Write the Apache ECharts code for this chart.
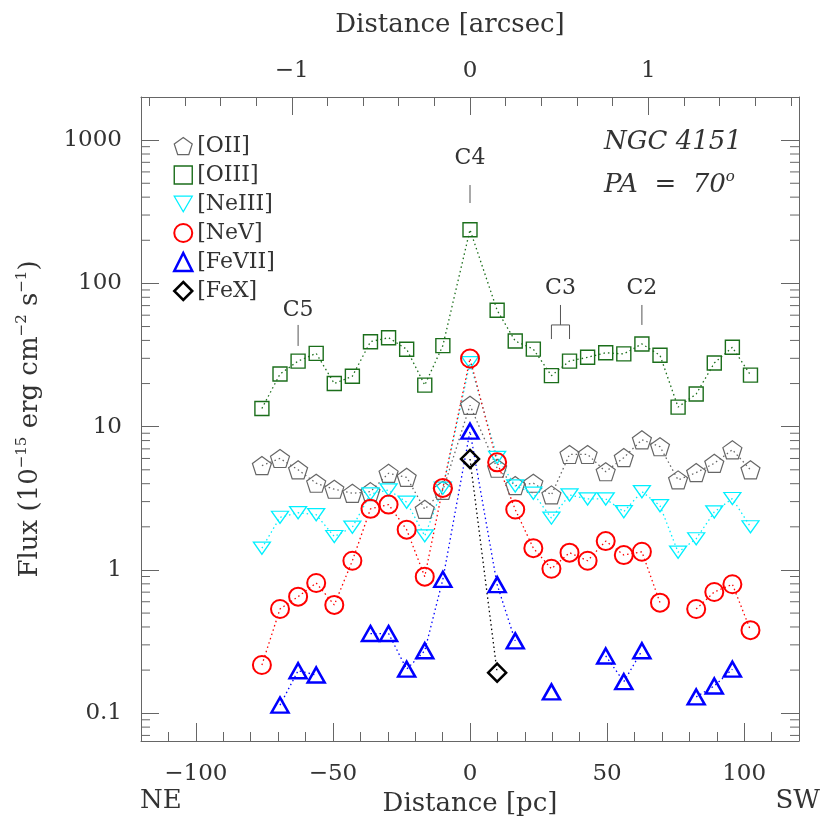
<!DOCTYPE html>
<html>
<head>
<meta charset="utf-8">
<title>NGC 4151 line fluxes</title>
<script src="https://cdn.jsdelivr.net/npm/echarts@6/dist/echarts.min.js"></script>
<style>
  html, body { margin: 0; padding: 0; background: #fff; }
  #graph { width: 830px; height: 830px; }
</style>
</head>
<body>
<div id="graph"></div>
<script>
'use strict'

// distance along the slit (pc), one entry per extracted spectrum
const distances = [-75.9, -69.3, -62.7, -56.1, -49.5, -42.9, -36.3, -29.7, -23.1, -16.5, -9.9, 0,
  9.9, 16.5, 23.1, 29.7, 36.3, 42.9, 49.5, 56.1, 62.7, 69.3, 75.9, 82.5, 89.1, 95.7, 102.3]

// fluxes in 1e-15 erg/cm2/s, null = no measurement
const fluxOII = [5.35, 6.0, 5.0, 4.03, 3.66, 3.43, 3.52, 4.73, 4.43, 2.65, 3.6, 14.1,
  5.13, 3.88, 4.03, 3.34, 6.4, 6.4, 4.85, 6.08, 8.1, 7.25, 4.25, 4.78, 5.55, 6.9, 5.0]
const fluxOIII = [13.4, 23.3, 28.7, 32.5, 20.0, 22.5, 39.2, 41.8, 34.7, 19.5, 36.8, 237,
  64.9, 39.6, 34.8, 22.7, 28.7, 30.5, 32.8, 32.2, 37.8, 31.5, 13.7, 16.9, 27.8, 35.8, 22.9]
const fluxNeIII = [1.42, 2.33, 2.51, 2.43, 1.71, 1.99, 3.39, 3.62, 2.97, 1.73, 3.72, 28,
  6.1, 3.86, 3.43, 2.3, 3.34, 3.13, 3.13, 2.55, 3.52, 2.81, 1.33, 1.65, 2.54, 3.15, 2.0]
const fluxNeV = [0.217, 0.534, 0.651, 0.811, 0.57, 1.16, 2.67, 2.86, 1.91, 0.898, 3.74, 29.9,
  5.64, 2.64, 1.42, 1.02, 1.32, 1.16, 1.59, 1.27, 1.34, 0.591, null, 0.534, 0.702, 0.795, 0.38]
const fluxFeVII = [null, 0.114, 0.198, 0.185, null, null, 0.36, 0.36, 0.203, 0.273, 0.86, 9.3,
  0.79, 0.32, null, 0.141, null, null, 0.251, 0.166, 0.273, null, null, 0.13, 0.155, 0.203, null]
const fluxFeX = [null, null, null, null, null, null, null, null, null, null, null, 5.95,
  0.192, null, null, null, null, null, null, null, null, null, null, null, null, null, null]

const pcLabels = [-100, -50, 0, 50, 100]
const arcsecLabels = [-1, 0, 1]
const PC_PER_ARCSEC = 65

const FONT = 'DejaVu Serif'
const TEXT = '#333'
const FRAME = '#666'

const PENTAGON = 'path://M0,-100L95.1,-30.9L58.8,80.9L-58.8,80.9L-95.1,-30.9Z'
const DOWN_TRIANGLE = 'path://M0,0L100,0L50,86.6Z'

const lines = [
  { name: '[OII]', data: fluxOII, color: '#666666', symbol: PENTAGON, size: 19, width: 1.2 },
  { name: '[OIII]', data: fluxOIII, color: '#1b6e1b', symbol: 'rect', size: 14, width: 1.4 },
  { name: '[NeIII]', data: fluxNeIII, color: '#00f0ff', symbol: DOWN_TRIANGLE, size: [17, 14], width: 1.3 },
  { name: '[NeV]', data: fluxNeV, color: '#ff0000', symbol: 'circle', size: 18, width: 2 },
  { name: '[FeVII]', data: fluxFeVII, color: '#0000ff', symbol: 'triangle', size: [17, 15], width: 2.5 },
  { name: '[FeX]', data: fluxFeX, color: '#000000', symbol: 'diamond', size: 18, width: 2.5 }
]

// knot labels above the [OIII] profile
const annotations = [
  { label: 'C5', x: -62.7, text: 65, top: 51.3, bottom: 36.6 },
  { label: 'C4', x: 0, text: 750, top: 486, bottom: 364 },
  { label: 'C3', x: 33, text: 93, top: 70.7, bottom: 51.3, bracket: [29.7, 36.3], foot: 40.9 },
  { label: 'C2', x: 62.7, text: 93, top: 70.7, bottom: 51.3 }
]

// tick positions
const pcMinor = []
for (let v = -120; v <= 120; v += 10) pcMinor.push(v)
const arcsecMinor = []
for (let k = -9; k <= 9; k++) arcsecMinor.push(Math.round(k * 2) / 10)
const fluxMinor = []
for (let e = -2; e <= 3; e++) {
  for (let m = 2; m <= 9; m++) {
    const v = +(m * Math.pow(10, e)).toPrecision(3)
    if (v > 0.064 && v < 2000) fluxMinor.push(v)
  }
}

const minus = v => String(v).replace('-', '\u2212')
const textStyle = size => ({ fontFamily: FONT, fontSize: size, color: TEXT })

const chart = echarts.init(document.getElementById('graph'))

const series = lines.map(l => ({
  name: l.name,
  type: 'line',
  xAxisIndex: 0,
  yAxisIndex: 0,
  data: distances.map((d, i) => [d, l.data[i] === null ? '-' : l.data[i]]),
  connectNulls: false,
  symbol: l.symbol,
  symbolSize: l.size,
  symbolKeepAspect: true,
  showAllSymbol: true,
  itemStyle: { color: 'rgba(0,0,0,0)', borderColor: l.color, borderWidth: l.width },
  lineStyle: { color: l.color, width: 1.3, type: [1.5, 3] },
  emphasis: { disabled: true },
  animation: false
}))

// minor log ticks on left and right frame
series.push({
  type: 'custom',
  name: 'minorTicks',
  silent: true,
  xAxisIndex: 0,
  yAxisIndex: 0,
  data: fluxMinor.map(v => [0, v]),
  renderItem (params, api) {
    const y = api.coord([0, api.value(1)])[1]
    const cs = params.coordSys
    const style = { stroke: FRAME, lineWidth: 1 }
    return {
      type: 'group',
      children: [
        { type: 'line', shape: { x1: cs.x, y1: y, x2: cs.x + 9, y2: y }, style },
        { type: 'line', shape: { x1: cs.x + cs.width - 9, y1: y, x2: cs.x + cs.width, y2: y }, style }
      ]
    }
  },
  animation: false
})

// knot labels
series.push({
  type: 'custom',
  name: 'knots',
  silent: true,
  clip: false,
  xAxisIndex: 0,
  yAxisIndex: 0,
  data: annotations.map(a => [a.x, a.top]),
  renderItem (params, api) {
    const a = annotations[params.dataIndex]
    const style = { stroke: '#555', lineWidth: 1 }
    const t = api.coord([a.x, a.text])
    const p1 = api.coord([a.x, a.top])
    const p2 = api.coord([a.x, a.bottom])
    const children = [
      {
        type: 'text',
        style: { text: a.label, x: t[0], y: t[1], align: 'center', verticalAlign: 'middle', font: '22px "DejaVu Serif"', fill: TEXT }
      },
      { type: 'line', shape: { x1: p1[0], y1: p1[1], x2: p2[0], y2: p2[1] }, style }
    ]
    if (a.bracket) {
      const l = api.coord([a.bracket[0], a.bottom])
      const r = api.coord([a.bracket[1], a.bottom])
      const lf = api.coord([a.bracket[0], a.foot])
      const rf = api.coord([a.bracket[1], a.foot])
      children.push({ type: 'line', shape: { x1: l[0], y1: l[1], x2: r[0], y2: r[1] }, style })
      children.push({ type: 'line', shape: { x1: l[0], y1: l[1], x2: lf[0], y2: lf[1] }, style })
      children.push({ type: 'line', shape: { x1: r[0], y1: r[1], x2: rf[0], y2: rf[1] }, style })
    }
    return { type: 'group', children }
  },
  animation: false
})

const option = {
  animation: false,
  backgroundColor: '#fff',
  grid: { left: 141, right: 31, top: 97, bottom: 89, outerBoundsMode: 'none' },
  legend: {
    orient: 'vertical',
    left: 168,
    top: 130,
    itemWidth: 18,
    itemHeight: 18,
    itemGap: 7,
    selectedMode: false,
    textStyle: Object.assign(textStyle(22), { lineHeight: 20 }),
    data: lines.map(l => ({
      name: l.name,
      icon: l.symbol,
      itemStyle: { color: 'rgba(0,0,0,0)', borderColor: l.color, borderWidth: l.width }
    }))
  },
  xAxis: [
    {
      type: 'value',
      position: 'bottom',
      min: -120,
      max: 120,
      interval: 10,
      axisLine: { show: true, onZero: false, lineStyle: { color: FRAME } },
      axisTick: { inside: true, length: 9, customValues: pcMinor, lineStyle: { color: FRAME } },
      axisLabel: Object.assign(textStyle(23), { customValues: pcLabels, margin: 22, formatter: minus }),
      splitLine: { show: false },
      name: 'Distance [pc]',
      nameLocation: 'middle',
      nameGap: 48,
      nameTextStyle: textStyle(26)
    },
    {
      type: 'value',
      position: 'bottom',
      min: -120,
      max: 120,
      axisLine: { show: false },
      axisTick: { inside: true, length: 18, customValues: pcLabels, lineStyle: { color: FRAME } },
      axisLabel: { show: false },
      splitLine: { show: false }
    },
    {
      type: 'value',
      position: 'top',
      min: -120 / PC_PER_ARCSEC,
      max: 120 / PC_PER_ARCSEC,
      axisLine: { show: true, onZero: false, lineStyle: { color: FRAME } },
      axisTick: { inside: true, length: 9, customValues: arcsecMinor, lineStyle: { color: FRAME } },
      axisLabel: Object.assign(textStyle(23), { customValues: arcsecLabels, margin: 14, formatter: minus }),
      splitLine: { show: false },
      name: 'Distance [arcsec]',
      nameLocation: 'middle',
      nameGap: 59,
      nameTextStyle: Object.assign(textStyle(26), { padding: [0, 40, 0, 0] })
    },
    {
      type: 'value',
      position: 'top',
      min: -120 / PC_PER_ARCSEC,
      max: 120 / PC_PER_ARCSEC,
      axisLine: { show: false },
      axisTick: { inside: true, length: 18, customValues: arcsecLabels, lineStyle: { color: FRAME } },
      axisLabel: { show: false },
      splitLine: { show: false }
    }
  ],
  yAxis: [
    {
      type: 'log',
      position: 'left',
      min: 0.064,
      max: 2000,
      axisLine: { show: true, onZero: false, lineStyle: { color: FRAME } },
      axisTick: { inside: true, length: 18, lineStyle: { color: FRAME } },
      axisLabel: Object.assign(textStyle(23), {
        margin: 19,
        showMinLabel: false,
        showMaxLabel: false,
        formatter: v => String(v)
      }),
      splitLine: { show: false },
      name: '{a|Flux (10}{s|\u221215}{a| erg cm}{s|\u22122}{a| s}{s|\u22121}{a|)}',
      nameLocation: 'middle',
      nameGap: 96,
      nameRotate: 90,
      nameTextStyle: {
        rich: {
          a: { fontFamily: FONT, fontSize: 26, color: TEXT, lineHeight: 30 },
          s: { fontFamily: FONT, fontSize: 15, color: TEXT, lineHeight: 16, verticalAlign: 'top' }
        }
      }
    },
    {
      type: 'log',
      position: 'right',
      min: 0.064,
      max: 2000,
      axisLine: { show: true, onZero: false, lineStyle: { color: FRAME } },
      axisTick: { inside: true, length: 18, lineStyle: { color: FRAME } },
      axisLabel: { show: false },
      splitLine: { show: false }
    }
  ],
  graphic: [
    {
      type: 'text',
      left: 604,
      top: 129,
      style: { text: 'NGC 4151', font: 'italic 26px "DejaVu Serif"', fill: TEXT }
    },
    {
      type: 'text',
      left: 604,
      top: 170,
      style: {
        text: '{i|PA  =  70}{s|o}',
        rich: {
          i: { fontFamily: FONT, fontStyle: 'italic', fontSize: 26, fill: TEXT, lineHeight: 30 },
          s: { fontFamily: FONT, fontStyle: 'italic', fontSize: 15, fill: TEXT, lineHeight: 18, verticalAlign: 'top' }
        }
      }
    },
    {
      type: 'text',
      left: 140,
      top: 788,
      style: { text: 'NE', font: '26px "DejaVu Serif"', fill: TEXT }
    },
    {
      type: 'text',
      right: 10,
      top: 788,
      style: { text: 'SW', font: '26px "DejaVu Serif"', fill: TEXT }
    }
  ],
  series
}

chart.setOption(option)
</script>
</body>
</html>
